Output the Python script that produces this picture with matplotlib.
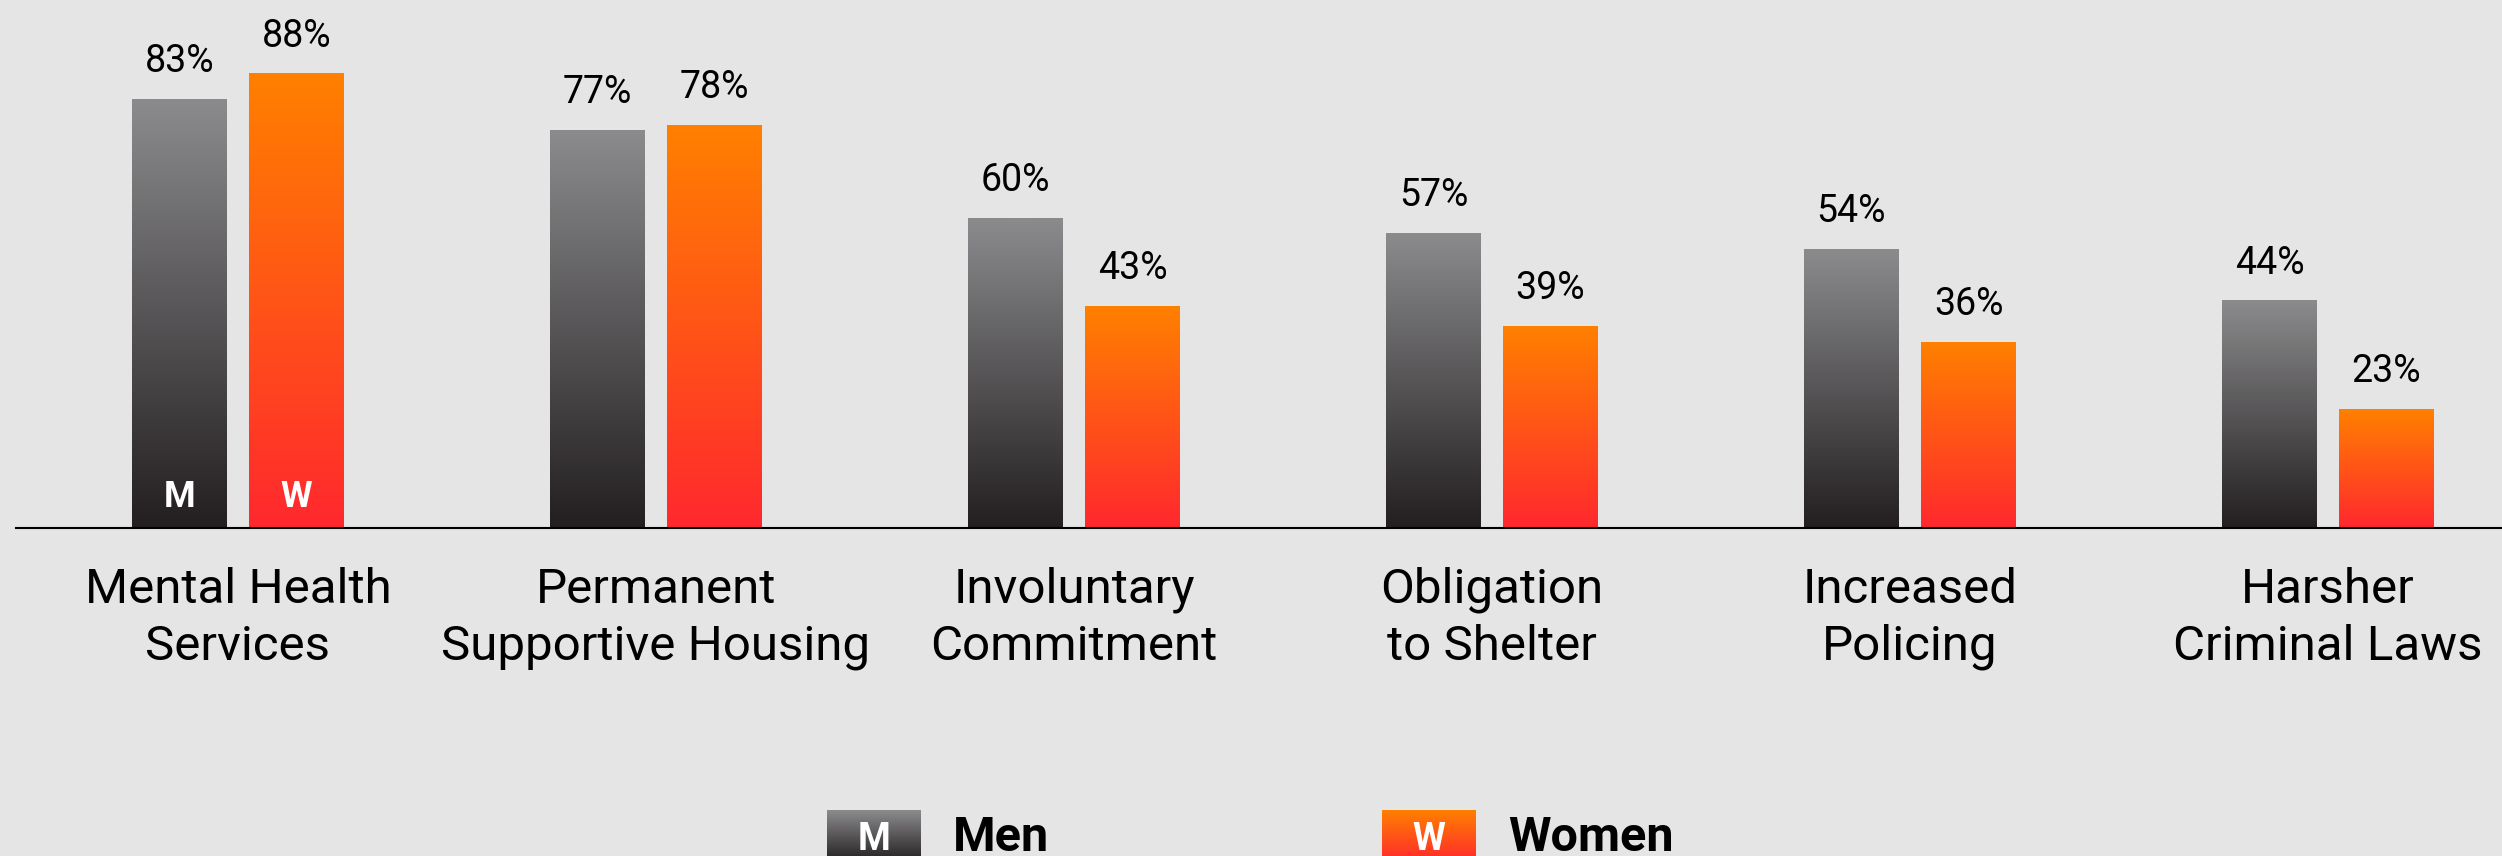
import numpy as np
import matplotlib.pyplot as plt
from matplotlib.colors import LinearSegmentedColormap

plt.rcParams['font.family'] = ['Roboto', 'DejaVu Sans']

categories = ["Mental Health\nServices", "Permanent\nSupportive Housing",
              "Involuntary\nCommitment", "Obligation\nto Shelter",
              "Increased\nPolicing", "Harsher\nCriminal Laws"]
men = [83, 77, 60, 57, 54, 44]
women = [88, 78, 43, 39, 36, 23]
series_names = ["Men", "Women"]
series_tags = ["M", "W"]

BG = "#e5e5e5"
# colormaps go bottom -> top of each bar
men_cmap = LinearSegmentedColormap.from_list("men", ["#231f20", "#8b8b8d"])
women_cmap = LinearSegmentedColormap.from_list("women", ["#ff282e", "#ff8000"])

W, H = 2502, 856
fig = plt.figure(figsize=(W / 100, H / 100), dpi=100, facecolor=BG)
ax = fig.add_axes([16 / W, 328 / H, (W - 16) / W, 518 / H])
ax.set_facecolor(BG)

x = np.arange(len(categories))
bw = 0.225
off = 0.14
grad = np.linspace(0, 1, 256).reshape(-1, 1)

for vals, cmap, sign, tag in zip([men, women], [men_cmap, women_cmap], [-1, 1], series_tags):
    bars = ax.bar(x + sign * off, vals, bw, color='none', edgecolor='none')
    for b in bars:
        x0, h = b.get_x(), b.get_height()
        ax.imshow(grad, cmap=cmap, origin='lower', aspect='auto',
                  extent=(x0, x0 + bw, 0, h), zorder=2)
    ax.bar_label(bars, labels=[f"{v}%" for v in vals], padding=14, fontsize=27)
    # tag letter inside the first bar
    ax.text(x[0] + sign * off, 6.0, tag, ha='center', va='center',
            color='white', fontsize=26, fontweight='bold', zorder=3)

ax.set_xlim(-(238 - 16) / 418, (W - 238) / 418)
ax.set_ylim(0, 100.4)
ax.set_xticks(x, categories)
ax.tick_params(axis='x', length=0, pad=28, labelsize=35.5)
for lbl in ax.get_xticklabels():
    lbl.set_linespacing(1.3)
ax.set_yticks([])
for s in ['top', 'right', 'left']:
    ax.spines[s].set_visible(False)
ax.spines['bottom'].set_color('black')
ax.spines['bottom'].set_linewidth(1.5)
ax.spines['bottom'].set_zorder(4)

# legend drawn by hand at the bottom, in pixel coordinates
lax = fig.add_axes([0, 0, 1, 1])
lax.set_xlim(0, W)
lax.set_ylim(H, 0)
lax.axis('off')
lax.patch.set_alpha(0)
leg_x = [827, 1382]
for lx, cmap, tag, name in zip(leg_x, [men_cmap, women_cmap], series_tags, series_names):
    lax.imshow(grad, cmap=cmap, origin='lower', aspect='auto',
               extent=(lx, lx + 94, 862, 810))
    lax.text(lx + 47, 850, tag, ha='center', va='baseline', color='white',
             fontsize=27, fontweight='bold')
    lax.text(lx + 126, 851, name, ha='left', va='baseline', color='black',
             fontsize=35, fontweight='bold')
lax.set_xlim(0, W)
lax.set_ylim(H, 0)

fig.savefig("out.png", dpi=100, facecolor=BG)
